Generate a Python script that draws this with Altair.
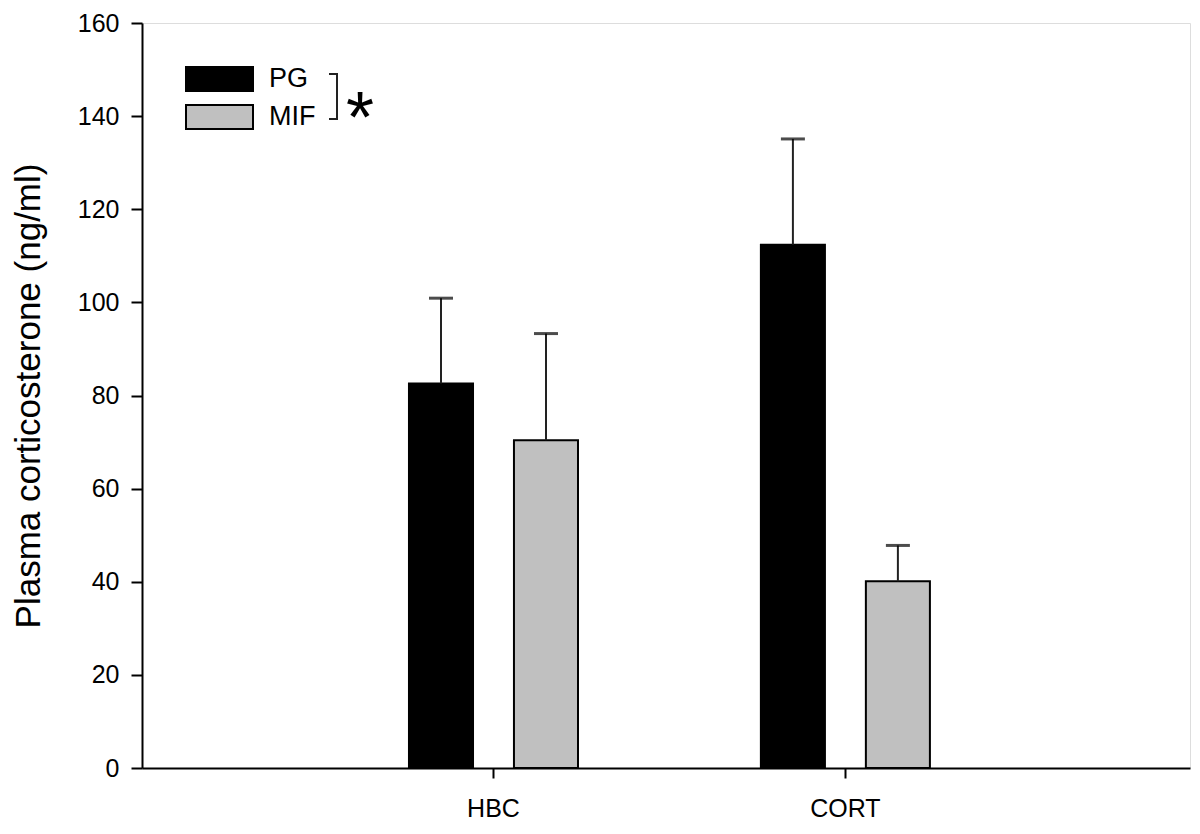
import altair as alt
import pandas as pd

categories = ["HBC", "HBC", "CORT", "CORT"]
groups = ["PG", "MIF", "PG", "MIF"]
means = [82.6, 70.4, 112.4, 40.1]
errors = [18.3, 22.9, 22.7, 7.7]

df = pd.DataFrame({"cat": categories, "grp": groups, "mean": means, "err": errors})
df["top"] = df["mean"] + df["err"]

FONT = "Liberation Sans"
W, H = 1048, 745

x_enc = alt.X("cat:N", sort=["HBC", "CORT"],
              scale=alt.Scale(paddingOuter=0.489, paddingInner=0, align=0.51),
              axis=alt.Axis(title=None, labelAngle=0, labelFontSize=25, labelFont=FONT,
                            labelColor="black", tickColor="black", tickWidth=2, tickSize=10,
                            domainColor="black", domainWidth=2, labelPadding=18))
xo_enc = alt.XOffset("grp:N", sort=["PG", "MIF"],
                     scale=alt.Scale(paddingInner=0.39, paddingOuter=0.871))
y_scale = alt.Scale(domain=[0, 160], nice=False)

bars = alt.Chart(df).mark_bar(stroke="black", strokeWidth=2).encode(
    x=x_enc,
    xOffset=xo_enc,
    y=alt.Y("mean:Q", scale=y_scale,
            axis=alt.Axis(title="Plasma corticosterone (ng/ml)", values=[0, 20, 40, 60, 80, 100, 120, 140, 160],
                          grid=False, labelFontSize=25, labelFont=FONT, labelColor="black",
                          titleFontSize=35, titleFont=FONT, titleFontWeight="normal", titleColor="black",
                          tickColor="black", tickWidth=2, tickSize=11, labelPadding=12,
                          domainColor="black", domainWidth=2, titlePadding=31)),
    color=alt.Color("grp:N", scale=alt.Scale(domain=["PG", "MIF"], range=["#000000", "#c0c0c0"]), legend=None),
)

whisk = alt.Chart(df).mark_rule(color="#222222", strokeWidth=2).encode(
    x=alt.X("cat:N", sort=["HBC", "CORT"]),
    xOffset=alt.XOffset("grp:N", sort=["PG", "MIF"]),
    y=alt.Y("mean:Q", scale=y_scale),
    y2="top:Q",
)

caps = alt.Chart(df).mark_tick(color="black", thickness=3, size=24, orient="horizontal").encode(
    x=alt.X("cat:N", sort=["HBC", "CORT"]),
    xOffset=alt.XOffset("grp:N", sort=["PG", "MIF"]),
    y=alt.Y("top:Q", scale=y_scale),
)

one = alt.Data(values=[{"a": 1}])
leg_pg = alt.Chart(one).mark_rect(color="black", stroke="black", strokeWidth=2).encode(
    x=alt.value(44), x2=alt.value(111), y=alt.value(44), y2=alt.value(68))
leg_mif = alt.Chart(one).mark_rect(color="#c0c0c0", stroke="black", strokeWidth=2).encode(
    x=alt.value(44), x2=alt.value(111), y=alt.value(82), y2=alt.value(106))
leg_t1 = alt.Chart(one).mark_text(text="PG", font=FONT, fontSize=27, align="left", baseline="middle").encode(
    x=alt.value(127), y=alt.value(56))
leg_t2 = alt.Chart(one).mark_text(text="MIF", font=FONT, fontSize=27, align="left", baseline="middle").encode(
    x=alt.value(127), y=alt.value(94))
br_v = alt.Chart(one).mark_rule(color="#222222", strokeWidth=2).encode(
    x=alt.value(195), y=alt.value(51), y2=alt.value(96))
br_t = alt.Chart(one).mark_rule(color="#222222", strokeWidth=2).encode(
    x=alt.value(187), x2=alt.value(196), y=alt.value(51))
br_b = alt.Chart(one).mark_rule(color="#222222", strokeWidth=2).encode(
    x=alt.value(187), x2=alt.value(196), y=alt.value(96))
star = alt.Chart(one).mark_text(text="*", font=FONT, fontSize=72, align="center", baseline="alphabetic").encode(
    x=alt.value(218), y=alt.value(119))

chart = alt.layer(bars, whisk, caps, leg_pg, leg_mif, leg_t1, leg_t2, br_v, br_t, br_b, star).properties(
    width=W, height=H,
    autosize=alt.AutoSizeParams(type="none"),
    padding={"left": 134, "top": 15, "right": 2, "bottom": 52},
).configure_view(stroke="black", strokeWidth=2).configure(background="white")

chart.save("out.html", embed_options={"renderer": "svg", "actions": False})
